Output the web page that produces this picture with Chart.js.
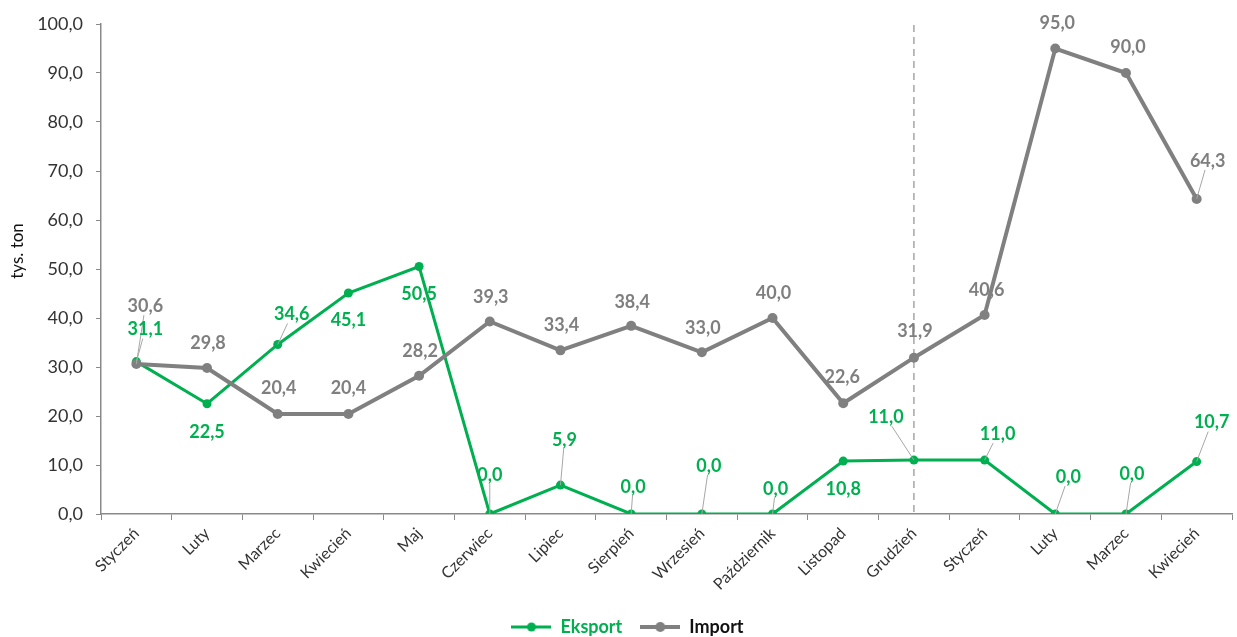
<!DOCTYPE html>
<html lang="pl">
<head>
<meta charset="UTF-8">
<title>Eksport i import</title>
<script src="https://cdn.jsdelivr.net/npm/chart.js@4"></script>
<style>
  html, body { margin: 0; padding: 0; background: #fff; }
  .wykres { width: 1237px; height: 637px; }
</style>
</head>
<body>
<div class="wykres"><canvas id="wykres" width="1237" height="637"></canvas></div>
<script>
// dane
const miesiace = ['Styczeń','Luty','Marzec','Kwiecień','Maj','Czerwiec','Lipiec','Sierpień','Wrzesień','Październik','Listopad','Grudzień','Styczeń','Luty','Marzec','Kwiecień'];
const eksport = [31.1, 22.5, 34.6, 45.1, 50.5, 0.0, 5.9, 0.0, 0.0, 0.0, 10.8, 11.0, 11.0, 0.0, 0.0, 10.7];
const importDane = [30.6, 29.8, 20.4, 20.4, 28.2, 39.3, 33.4, 38.4, 33.0, 40.0, 22.6, 31.9, 40.6, 95.0, 90.0, 64.3];
const osY = [0, 10, 20, 30, 40, 50, 60, 70, 80, 90, 100];
const podzial = 11; // przerywana linia na Grudniu

// przesunięcia etykiet względem punktu [dx, dy, linia odniesienia]
const etykietyEksport = [[9,-32,1],[0,28,0],[14,-30,1],[0,27,0],[0,28,0],[0,-39,1],[4,-45,1],[2,-27,1],[7,-48,1],[3,-25,1],[0,28,0],[-28,-43,1],[13,-26,1],[13,-37,1],[6,-40,1],[15,-39,1]];
const etykietyImport = [[9,-58,1],[1,-25,0],[1,-26,0],[0,-26,0],[1,-25,0],[1,-24,0],[1,-25,0],[1,-24,0],[1,-24,0],[1,-25,0],[-1,-26,0],[1,-27,0],[2,-25,0],[2,-25,0],[2,-26,0],[11,-38,1]];

const ZIELONY = '#00B050';
const SZARY = '#808080';
const FONT = 'Lato, Carlito, "Open Sans", sans-serif';

function fmt(v) { return v.toFixed(1).replace('.', ','); }

function znacznik(kolor, grubosc, promien) {
  const c = document.createElement('canvas');
  c.width = 40; c.height = 12;
  const g = c.getContext('2d');
  g.strokeStyle = kolor; g.lineWidth = grubosc;
  g.beginPath(); g.moveTo(0, 6); g.lineTo(40, 6); g.stroke();
  g.fillStyle = kolor;
  g.beginPath(); g.arc(20, 6, promien, 0, Math.PI * 2); g.fill();
  return c;
}
const znaczniki = [znacznik(ZIELONY, 3, 4.5), znacznik(SZARY, 4, 5)];
const koloryLegendy = [ZIELONY, '#111111'];

const etykiety = {
  id: 'etykiety',
  beforeDatasetsDraw(ch) {
    const ctx = ch.ctx;
    const x = ch.scales.x.getPixelForValue(podzial);
    ctx.save();
    ctx.strokeStyle = '#A6A6A6';
    ctx.lineWidth = 1.5;
    ctx.setLineDash([7, 5]);
    ctx.beginPath();
    ctx.moveTo(x, ch.scales.y.getPixelForValue(100) + 1);
    ctx.lineTo(x, ch.chartArea.bottom);
    ctx.stroke();
    ctx.restore();
  },
  afterDatasetsDraw(ch) {
    const ctx = ch.ctx;
    ctx.save();
    ctx.font = 'bold 18px ' + FONT;
    ctx.textAlign = 'center';
    ctx.textBaseline = 'middle';
    const wpisy = [];
    ch.data.datasets.forEach((ds, d) => {
      ch.getDatasetMeta(d).data.forEach((pt, i) => {
        const [dx, dy, linia] = ds.etykiety[i];
        wpisy.push({ x: pt.x, y: pt.y, lx: pt.x + dx, ly: pt.y + dy, linia, tekst: fmt(ds.data[i]), kolor: ds.kolorEtykiety });
      });
    });
    ctx.strokeStyle = '#A6A6A6';
    ctx.lineWidth = 1;
    wpisy.forEach(w => {
      if (!w.linia) return;
      const pw = ctx.measureText(w.tekst).width / 2 + 1, ph = 9;
      const vx = w.x - w.lx, vy = w.y - w.ly;
      const t = Math.min(vx ? pw / Math.abs(vx) : Infinity, vy ? ph / Math.abs(vy) : Infinity);
      if (t >= 1) return;
      ctx.beginPath();
      ctx.moveTo(w.x, w.y);
      ctx.lineTo(w.lx + vx * t, w.ly + vy * t);
      ctx.stroke();
    });
    wpisy.forEach(w => { ctx.fillStyle = w.kolor; ctx.fillText(w.tekst, w.lx, w.ly); });
    ctx.restore();
  },
  afterDraw(ch) {
    const ctx = ch.ctx;
    ctx.save();
    ctx.font = '17px ' + FONT;
    ctx.fillStyle = '#111111';
    ctx.textAlign = 'center';
    ctx.textBaseline = 'middle';
    ctx.translate(18, 251);
    ctx.rotate(-Math.PI / 2);
    ctx.fillText('tys. ton', 0, 0);
    ctx.restore();
  }
};

new Chart(document.getElementById('wykres'), {
  type: 'line',
  data: {
    labels: miesiace,
    datasets: [{
      label: 'Eksport',
      data: eksport,
      borderColor: ZIELONY,
      backgroundColor: ZIELONY,
      borderWidth: 3,
      pointRadius: 4.5,
      pointBorderWidth: 0,
      pointBackgroundColor: ZIELONY,
      tension: 0,
      order: 0,
      etykiety: etykietyEksport,
      kolorEtykiety: ZIELONY
    }, {
      label: 'Import',
      data: importDane,
      borderColor: SZARY,
      backgroundColor: SZARY,
      borderWidth: 4,
      pointRadius: 5,
      pointBorderWidth: 0,
      pointBackgroundColor: SZARY,
      tension: 0,
      order: -1,
      etykiety: etykietyImport,
      kolorEtykiety: '#7F7F7F'
    }]
  },
  options: {
    responsive: false,
    animation: false,
    devicePixelRatio: 1,
    layout: { padding: { top: 24, right: 0, bottom: -9, left: 18 } },
    scales: {
      x: {
        offset: true,
        grid: { display: true, offset: true, drawOnChartArea: false, drawTicks: true, tickLength: 6, color: '#898989' },
        border: { color: '#898989', width: 1.5 },
        ticks: { minRotation: 45, maxRotation: 45, autoSkip: false, padding: 4, color: '#333333', font: { family: FONT, size: 16 } },
        afterFit: s => { s.height = 86; s.paddingLeft = 0; s.paddingRight = 0; }
      },
      y: {
        min: 0,
        max: 100,
        afterBuildTicks: s => { s.ticks = osY.map(v => ({ value: v })); },
        grid: { display: true, drawOnChartArea: false, drawTicks: true, tickLength: 5, color: '#898989' },
        border: { color: '#898989', width: 1.5 },
        ticks: { padding: 13, color: '#333333', font: { family: FONT, size: 18 }, callback: v => fmt(v) },
        afterFit: s => { s.width = 83; }
      }
    },
    plugins: {
      tooltip: { enabled: false },
      legend: {
        position: 'bottom',
        labels: {
          usePointStyle: true,
          pointStyleWidth: 40,
          boxHeight: 12,
          padding: 18,
          font: { family: FONT, size: 18, weight: 'bold' },
          sort: (a, b) => a.datasetIndex - b.datasetIndex,
          generateLabels: ch => ch.data.datasets.map((ds, i) => ({
            text: ds.label,
            datasetIndex: i,
            pointStyle: znaczniki[i],
            fontColor: koloryLegendy[i],
            fillStyle: 'transparent',
            strokeStyle: 'transparent',
            lineWidth: 0,
            hidden: false
          }))
        }
      }
    }
  },
  plugins: [etykiety]
});
</script>
</body>
</html>
